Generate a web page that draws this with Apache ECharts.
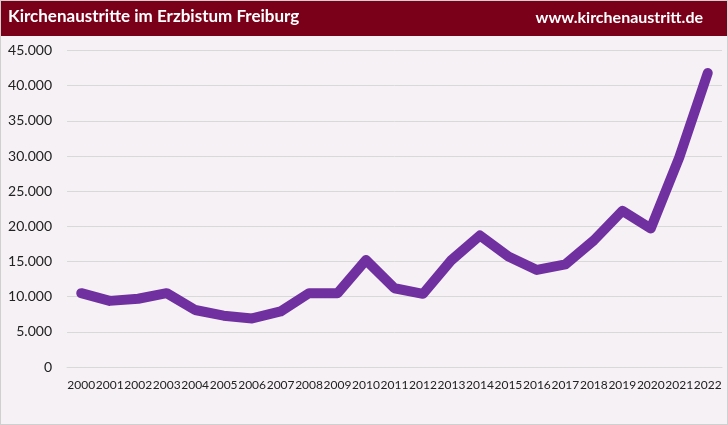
<!DOCTYPE html>
<html><head><meta charset="utf-8">
<script src="https://cdn.jsdelivr.net/npm/echarts@6/dist/echarts.min.js"></script>
<style>html,body{margin:0;padding:0;background:#fff}#c{width:728px;height:425px}</style>
</head><body><div id="c"></div>
<script>
const years = ['2000','2001','2002','2003','2004','2005','2006','2007','2008','2009','2010','2011','2012','2013','2014','2015','2016','2017','2018','2019','2020','2021','2022'];
const austritte = [10500,9400,9700,10500,8100,7300,6900,7900,10500,10500,15200,11200,10400,15200,18700,15700,13800,14600,18000,22200,19700,29800,41800];
const yTicks = [0,5000,10000,15000,20000,25000,30000,35000,40000,45000];

const chart = echarts.init(document.getElementById('c'), null, {renderer:'canvas'});
const fmt = v => v === 0 ? '0' : (v/1000).toFixed(0) + '.000';
chart.setOption({
  backgroundColor: '#F5F1F5',
  animation: false,
  graphic: [
    {type:'rect', shape:{x:0,y:0,width:728,height:425}, style:{fill:'none', stroke:'#D0D0D0', lineWidth:2}, z:-1},
    {type:'rect', shape:{x:1,y:1,width:726,height:35}, style:{fill:'#7A0019'}, z:0}
  ],
  title: [
    {text:'Kirchenaustritte im Erzbistum Freiburg', left:8, top:8, padding:0,
     textStyle:{color:'#fff', fontFamily:'Lato', fontWeight:'bold', fontSize:17}},
    {text:'www.kirchenaustritt.de', right:25, top:10, padding:0,
     textStyle:{color:'#fff', fontFamily:'Lato', fontWeight:'bold', fontSize:16}}
  ],
  grid: {left:67, right:6, top:50.5, bottom:58, containLabel:false},
  xAxis: {
    type:'category', data: years, boundaryGap:true,
    axisLine:{show:true, lineStyle:{color:'#D9D9D9', width:1}},
    axisTick:{show:false},
    axisLabel:{color:'#222', fontFamily:'Lato', fontSize:12, interval:0, margin:12}
  },
  yAxis: {
    type:'value', min:0, max:45000, interval:5000,
    axisLine:{show:false}, axisTick:{show:false},
    splitLine:{lineStyle:{color:'#D9D9D9', width:1}},
    axisLabel:{color:'#222', fontFamily:'Lato', fontSize:14, margin:15,
      formatter: v => yTicks.includes(v) ? fmt(v) : ''}
  },
  series: [{
    type:'line', data: austritte, symbol:'none',
    lineStyle:{color:'#7030A0', width:10, cap:'round', join:'round'}
  }]
});
</script></body></html>
